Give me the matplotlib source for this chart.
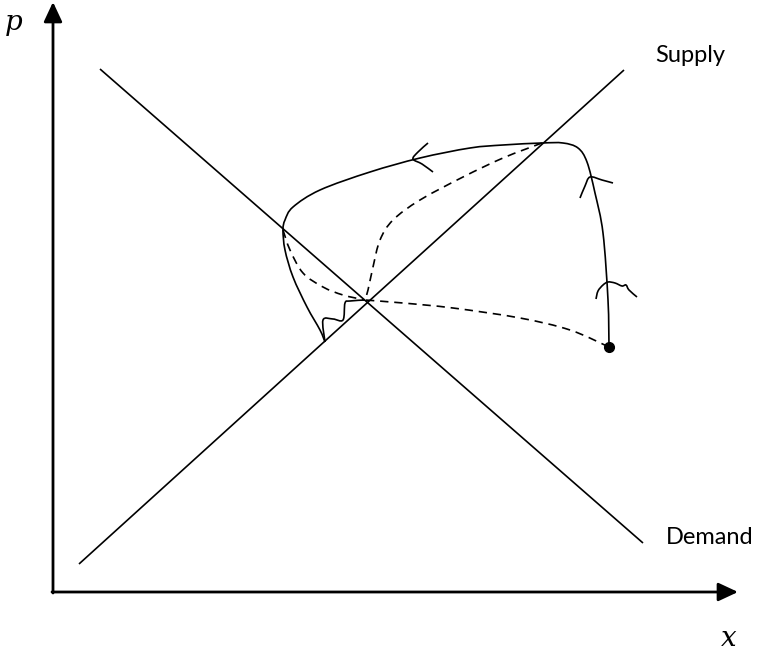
import numpy as np
import matplotlib
matplotlib.use("Agg")
import matplotlib.pyplot as plt
from matplotlib.path import Path
from matplotlib.patches import PathPatch

# ---- data (pixel-space sketch coordinates, y downward) ----
axis_origin = (53, 592)
axis_x_end = 738
axis_y_end = 2

supply_x = [79, 624]
supply_y = [564, 70]
demand_x = [100, 643]
demand_y = [69, 543]

loop_x = [609, 608, 603, 595, 587, 578, 563, 542, 503, 470, 420, 370, 320, 293, 285, 283, 285, 293, 307, 320, 325]
loop_y = [347, 300, 233, 193, 162, 148, 143, 143, 145, 148, 158, 172, 190, 207, 220, 230, 250, 277, 307, 330, 342]

stair_x = [325, 323, 333, 343, 345, 350, 365]
stair_y = [342, 320, 319, 320, 303, 301, 300]

dash1_x = [609, 570, 520, 453, 403, 365]
dash1_y = [347, 330, 318, 308, 303, 300]
dash2_x = [542, 503, 463, 420, 393, 380, 373, 368, 365]
dash2_y = [143, 158, 177, 200, 220, 240, 267, 290, 300]
dash3_x = [283, 290, 303, 323, 343, 365]
dash3_y = [230, 250, 273, 287, 295, 300]

arrow1_x = [428, 418, 413, 422, 433]
arrow1_y = [143, 152, 159, 164, 172]
arrow2_x = [580, 585, 590, 602, 613]
arrow2_y = [198, 186, 177, 180, 183]
arrow3_x = [596, 598, 603, 608, 615, 622, 626, 629, 637]
arrow3_y = [299, 291, 285, 282, 283, 286, 285, 290, 297]

dot = (609, 347)


def smooth_path(xs, ys):
    pts = np.column_stack([xs, ys]).astype(float)
    n = len(pts)
    verts = [pts[0]]
    codes = [Path.MOVETO]
    for i in range(n - 1):
        p0 = pts[i - 1] if i > 0 else pts[i]
        p1 = pts[i]
        p2 = pts[i + 1]
        p3 = pts[i + 2] if i + 2 < n else pts[i + 1]
        c1 = p1 + (p2 - p0) / 6.0
        c2 = p2 - (p3 - p1) / 6.0
        verts += [c1, c2, p2]
        codes += [Path.CURVE4] * 3
    return Path(verts, codes)


fig = plt.figure(figsize=(7.66, 6.53), dpi=100)
ax = fig.add_axes([0, 0, 1, 1])
ax.set_xlim(0, 766)
ax.set_ylim(653, 0)
ax.axis("off")

# axes with arrows
arrow_style = "-|>,head_length=0.6,head_width=0.28"
ax.annotate("", xy=(axis_x_end, axis_origin[1]), xytext=(axis_origin[0] - 1, axis_origin[1]),
            arrowprops=dict(arrowstyle=arrow_style, color="black", lw=2.0,
                            mutation_scale=20, shrinkA=0, shrinkB=0))
ax.annotate("", xy=(axis_origin[0], axis_y_end), xytext=(axis_origin[0], axis_origin[1] + 1),
            arrowprops=dict(arrowstyle=arrow_style, color="black", lw=2.0,
                            mutation_scale=20, shrinkA=0, shrinkB=0))

# supply & demand
ax.plot(supply_x, supply_y, color="black", lw=1.2, solid_capstyle="butt")
ax.plot(demand_x, demand_y, color="black", lw=1.2, solid_capstyle="butt")

# solid trajectory
for xs, ys in [(loop_x, loop_y), (stair_x, stair_y), (arrow1_x, arrow1_y),
               (arrow2_x, arrow2_y), (arrow3_x, arrow3_y)]:
    ax.add_patch(PathPatch(smooth_path(xs, ys), fill=False, edgecolor="black", lw=1.2))

# dashed trajectories
for xs, ys in [(dash1_x, dash1_y), (dash2_x, dash2_y), (dash3_x, dash3_y)]:
    ax.add_patch(PathPatch(smooth_path(xs, ys), fill=False, edgecolor="black", lw=1.2,
                           linestyle=(0, (5, 3.5))))

ax.plot([dot[0]], [dot[1]], "o", color="black", markersize=7)

# labels
ax.text(655, 55, "Supply", fontsize=17, family="Lato", va="center", ha="left")
ax.text(666, 537, "Demand", fontsize=17, family="Lato", va="center", ha="left")
ax.text(14, 22, "p", fontsize=20, family="DejaVu Serif", style="italic", va="center", ha="center")
ax.text(729, 638, "x", fontsize=20, family="DejaVu Serif", style="italic", va="center", ha="center")

fig.savefig("out.png", dpi=100)
